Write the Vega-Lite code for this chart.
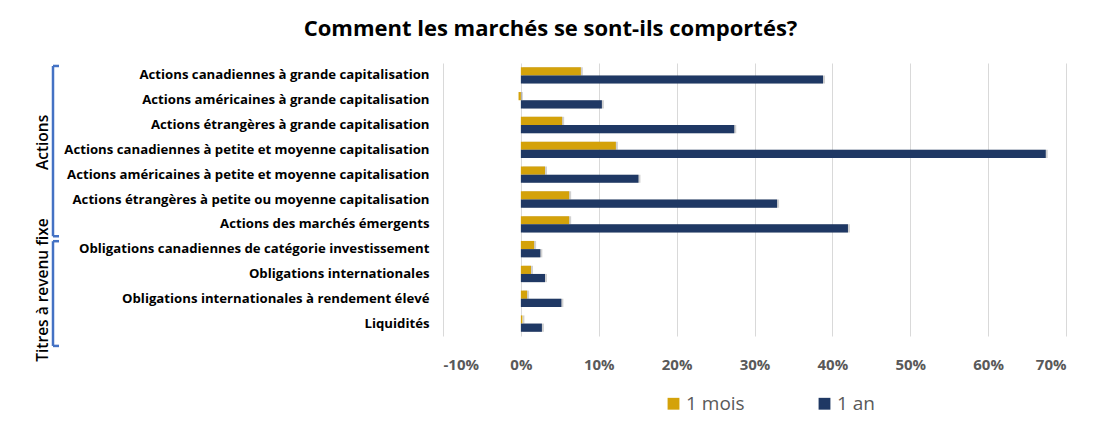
{
  "$schema": "https://vega.github.io/schema/vega-lite/v6.json",
  "background": "white",
  "padding": {"left": 35, "top": 18, "right": 40, "bottom": 10},
  "title": {
    "text": "Comment les marchés se sont-ils comportés?",
    "font": "Open Sans",
    "fontSize": 22,
    "fontWeight": "bold",
    "color": "#000000",
    "anchor": "middle",
    "offset": 22
  },
  "config": {
    "view": {"stroke": null},
    "font": "Open Sans",
    "concat": {"spacing": 2}
  },
  "hconcat": [
    {
      "width": 25,
      "height": 273,
      "data": {
        "values": [
          {"groupe": "Actions", "debut": 0.12, "fin": 6.98, "milieu": 3.2},
          {"groupe": "Titres à revenu fixe", "debut": 7.18, "fin": 11.4, "milieu": 9.15}
        ]
      },
      "layer": [
        {
          "mark": {"type": "rule", "color": "#4472C4", "strokeWidth": 2.5},
          "encoding": {
            "x": {"datum": 0.72, "type": "quantitative", "scale": {"domain": [0, 1]}, "axis": null},
            "y": {"field": "debut", "type": "quantitative", "scale": {"domain": [0, 11], "reverse": true, "nice": false, "zero": false}, "axis": null},
            "y2": {"field": "fin"}
          }
        },
        {
          "mark": {"type": "rule", "color": "#4472C4", "strokeWidth": 2.5},
          "encoding": {
            "x": {"datum": 0.72, "type": "quantitative"},
            "x2": {"datum": 0.96},
            "y": {"field": "debut", "type": "quantitative"}
          }
        },
        {
          "mark": {"type": "rule", "color": "#4472C4", "strokeWidth": 2.5},
          "encoding": {
            "x": {"datum": 0.72, "type": "quantitative"},
            "x2": {"datum": 0.96},
            "y": {"field": "fin", "type": "quantitative"}
          }
        },
        {
          "mark": {"type": "text", "angle": 270, "fontSize": 15.5, "fontWeight": 600, "color": "#000000", "align": "center", "baseline": "middle"},
          "encoding": {
            "x": {"datum": 0.32, "type": "quantitative"},
            "y": {"field": "milieu", "type": "quantitative"},
            "text": {"field": "groupe"}
          }
        }
      ]
    },
    {
      "width": 623,
      "height": 273,
      "data": {
        "values": [
          {"categorie": "Actions canadiennes à grande capitalisation", "periode": "1 mois", "rendement": 7.7},
          {"categorie": "Actions canadiennes à grande capitalisation", "periode": "1 an", "rendement": 38.8},
          {"categorie": "Actions américaines à grande capitalisation", "periode": "1 mois", "rendement": -0.3},
          {"categorie": "Actions américaines à grande capitalisation", "periode": "1 an", "rendement": 10.4},
          {"categorie": "Actions étrangères à grande capitalisation", "periode": "1 mois", "rendement": 5.3},
          {"categorie": "Actions étrangères à grande capitalisation", "periode": "1 an", "rendement": 27.4},
          {"categorie": "Actions canadiennes à petite et moyenne capitalisation", "periode": "1 mois", "rendement": 12.2},
          {"categorie": "Actions canadiennes à petite et moyenne capitalisation", "periode": "1 an", "rendement": 67.4},
          {"categorie": "Actions américaines à petite et moyenne capitalisation", "periode": "1 mois", "rendement": 3.1},
          {"categorie": "Actions américaines à petite et moyenne capitalisation", "periode": "1 an", "rendement": 15.1},
          {"categorie": "Actions étrangères à petite ou moyenne capitalisation", "periode": "1 mois", "rendement": 6.2},
          {"categorie": "Actions étrangères à petite ou moyenne capitalisation", "periode": "1 an", "rendement": 32.9},
          {"categorie": "Actions des marchés émergents", "periode": "1 mois", "rendement": 6.2},
          {"categorie": "Actions des marchés émergents", "periode": "1 an", "rendement": 42.0},
          {"categorie": "Obligations canadiennes de catégorie investissement", "periode": "1 mois", "rendement": 1.7},
          {"categorie": "Obligations canadiennes de catégorie investissement", "periode": "1 an", "rendement": 2.5},
          {"categorie": "Obligations internationales", "periode": "1 mois", "rendement": 1.3},
          {"categorie": "Obligations internationales", "periode": "1 an", "rendement": 3.1},
          {"categorie": "Obligations internationales à rendement élevé", "periode": "1 mois", "rendement": 0.8},
          {"categorie": "Obligations internationales à rendement élevé", "periode": "1 an", "rendement": 5.2},
          {"categorie": "Liquidités", "periode": "1 mois", "rendement": 0.2},
          {"categorie": "Liquidités", "periode": "1 an", "rendement": 2.7}
        ]
      },
      "encoding": {
        "y": {
          "field": "categorie",
          "type": "nominal",
          "sort": null,
          "scale": {"paddingInner": 0.34, "paddingOuter": 0.17},
          "axis": {
            "title": null,
            "domain": false,
            "ticks": false,
            "labelPadding": 14,
            "labelFont": "Open Sans",
            "labelFontSize": 13.2,
            "labelFontWeight": "bold",
            "labelColor": "#000000",
            "labelLimit": 500
          }
        },
        "x": {
          "field": "rendement",
          "type": "quantitative",
          "scale": {"domain": [-10, 70], "nice": false, "zero": false},
          "axis": {
            "title": null,
            "values": [-10, 0, 10, 20, 30, 40, 50, 60, 70],
            "labelExpr": "datum.value + '%'",
            "domain": false,
            "ticks": false,
            "grid": true,
            "gridColor": "#d9d9d9",
            "gridWidth": 1,
            "labelPadding": 21,
            "labelFont": "Open Sans",
            "labelFontSize": 15,
            "labelFontWeight": "bold",
            "labelColor": "#595959"
          }
        },
        "yOffset": {"field": "periode", "type": "nominal", "sort": ["1 mois", "1 an"], "scale": {"paddingInner": 0, "paddingOuter": 0}}
      },
      "layer": [
        {
          "mark": {"type": "bar", "color": "#000000", "opacity": 0.18, "xOffset": 2, "yOffset": 2}
        },
        {
          "mark": {"type": "bar"},
          "encoding": {
            "color": {
              "field": "periode",
              "type": "nominal",
              "sort": ["1 mois", "1 an"],
              "scale": {"domain": ["1 mois", "1 an"], "range": ["#D4A20A", "#1F3864"]},
              "legend": {
                "title": null,
                "orient": "none",
                "direction": "horizontal",
                "legendX": 629,
                "legendY": 331,
                "symbolType": "square",
                "symbolSize": 140,
                "symbolStrokeWidth": 0,
                "labelFont": "Open Sans",
                "labelFontSize": 19,
                "labelColor": "#595959",
                "labelOffset": 3,
                "columnPadding": 70
              }
            }
          }
        }
      ]
    }
  ]
}
